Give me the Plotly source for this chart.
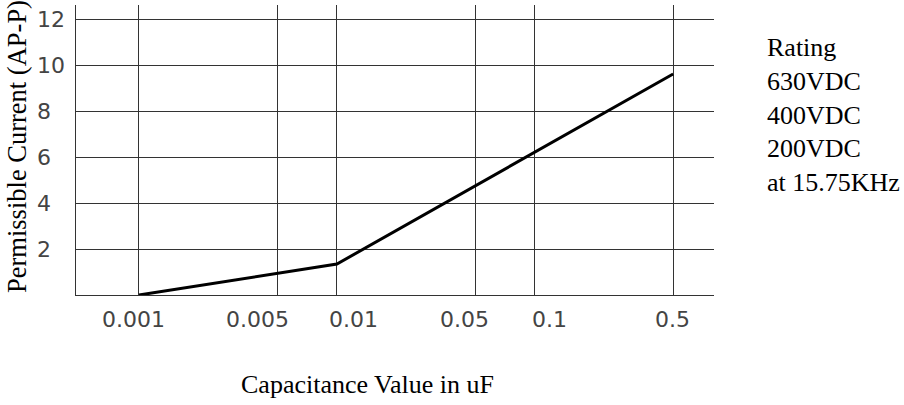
import math
import plotly.graph_objects as go

# Data
capacitance_uF = [0.001, 0.01, 0.5]
current_app = [0.0, 1.35, 9.64]

x_tickvals = [0.001, 0.005, 0.01, 0.05, 0.1, 0.5]
x_ticktext = ["0.001", "0.005", "0.01", "0.05", "0.1", "0.5"]
y_tickvals = [2, 4, 6, 8, 10, 12]
y_ticktext = ["2", "4", "6", "8", "10", "12"]

rating_lines = ["Rating", "630VDC", "400VDC", "200VDC", "at 15.75KHz"]
x_title = "Capacitance Value in uF"
y_title = "Permissible Current (AP-P)"

# Layout / style (pixel geometry)
W, H = 904, 405
L, R, T, B = 76, 714, 5, 295
x_label_shift = [-5.5, -20, 17, -11, 15, -1]

fig = go.Figure()
fig.add_trace(go.Scatter(
    x=capacitance_uF, y=current_app, mode="lines",
    line=dict(color="black", width=3), showlegend=False, hoverinfo="skip",
))

tick_font = dict(family="DejaVu Sans", size=22, color="#444")
serif = "Liberation Serif, Times New Roman, serif"

fig.update_layout(
    width=W, height=H,
    margin=dict(l=L, r=W - R, t=T, b=H - B, pad=0),
    paper_bgcolor="white", plot_bgcolor="white",
    xaxis=dict(
        type="log", range=[-3.3183, -0.0945],
        tickmode="array", tickvals=x_tickvals, ticktext=x_ticktext,
        showticklabels=False,
        showgrid=True, gridcolor="#333", gridwidth=1,
        showline=True, linecolor="#333", linewidth=1,
        ticks="", zeroline=False, fixedrange=True,
    ),
    yaxis=dict(
        range=[0, 12.65],
        tickmode="array", tickvals=y_tickvals, ticktext=y_ticktext,
        showticklabels=False,
        showgrid=True, gridcolor="#333", gridwidth=1,
        showline=True, linecolor="#333", linewidth=1,
        ticks="", zeroline=False, fixedrange=True,
    ),
)

pw, ph = R - L, B - T
def px(x):
    return (x - L) / pw
def py(y):
    return (B - y) / ph

# x tick labels (placed on the log axis, slightly offset as in the original)
for v, t, s in zip(x_tickvals, x_ticktext, x_label_shift):
    fig.add_annotation(
        text=t, xref="x", yref="paper", x=math.log10(v), y=py(319),
        xanchor="center", yanchor="middle", xshift=s, showarrow=False,
        font=tick_font,
    )
# y tick labels (left aligned as in the original)
for v, t in zip(y_tickvals, y_ticktext):
    fig.add_annotation(
        text=t, xref="paper", yref="y", x=px(35), y=v,
        xanchor="left", yanchor="middle", showarrow=False,
        font=tick_font,
    )

fig.add_annotation(
    text="<br>".join(rating_lines), xref="paper", yref="paper",
    x=px(765), y=py(115), xanchor="left", yanchor="middle", align="left",
    showarrow=False, font=dict(family=serif, size=26, color="black"),
)
fig.add_annotation(
    text=x_title, xref="paper", yref="paper",
    x=px(367), y=py(384), xanchor="center", yanchor="middle",
    showarrow=False, font=dict(family=serif, size=26, color="black"),
)
fig.add_annotation(
    text=y_title, xref="paper", yref="paper", textangle=-90,
    x=px(17), y=py(147), xanchor="center", yanchor="middle",
    showarrow=False, font=dict(family=serif, size=26.5, color="black"),
)

fig.write_html("out.html", config={"displayModeBar": False},
               post_script="document.body.style.margin='0';")
